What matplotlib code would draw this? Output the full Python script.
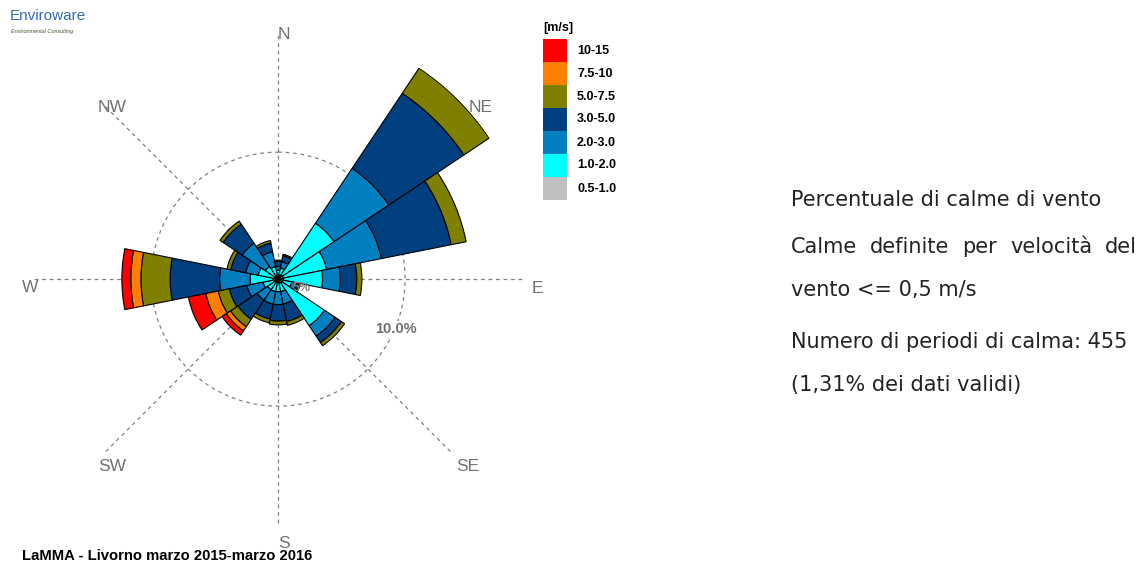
import numpy as np
import matplotlib.pyplot as plt
from matplotlib.patches import Rectangle

# 16 sectors, clockwise from North
directions = ["N", "NNE", "NE", "ENE", "E", "ESE", "SE", "SSE",
              "S", "SSW", "SW", "WSW", "W", "WNW", "NW", "NNW"]
speed_classes = ["0.5-1.0", "1.0-2.0", "2.0-3.0", "3.0-5.0",
                 "5.0-7.5", "7.5-10", "10-15"]
class_colors = ["#c0c0c0", "#00ffff", "#0080c0", "#004080",
                "#808000", "#ff8000", "#ff0000"]

# frequency (%) per direction for each speed class
f_05_10 = [0.3, 0.3, 0.4, 0.4, 0.4, 0.4, 0.4, 0.3, 0.3, 0.3, 0.3, 0.3, 0.4, 0.3, 0.3, 0.3]
f_10_20 = [0.4, 0.6, 4.9, 3.5, 3.1, 0.7, 4.0, 0.7, 0.7, 0.7, 0.7, 0.9, 1.8, 1.3, 0.9, 0.7]
f_20_30 = [0.3, 0.5, 5.2, 4.4, 1.4, 0.4, 1.0, 1.0, 1.0, 1.0, 1.0, 1.3, 2.4, 1.0, 2.2, 1.2]
f_30_50 = [0.4, 0.5, 7.1, 5.6, 1.3, 0.2, 0.6, 1.4, 1.3, 1.2, 1.8, 1.4, 3.9, 1.2, 1.8, 0.7]
f_50_75 = [0.1, 0.1, 2.4, 1.2, 0.4, 0.1, 0.3, 0.3, 0.3, 0.3, 0.7, 0.9, 2.3, 0.3, 0.3, 0.2]
f_75_10 = [0.0, 0.0, 0.2, 0.0, 0.0, 0.0, 0.0, 0.0, 0.0, 0.0, 0.4, 1.0, 0.8, 0.0, 0.0, 0.0]
f_10_15 = [0.0, 0.0, 0.0, 0.0, 0.0, 0.0, 0.0, 0.0, 0.0, 0.0, 0.4, 1.4, 0.7, 0.0, 0.0, 0.0]

freqs = [f_05_10, f_10_20, f_20_30, f_30_50, f_50_75, f_75_10, f_10_15]

calm_lines = ["Percentuale di calme di vento",
              "Calme definite per velocità del",
              "vento <= 0,5 m/s",
              "Numero di periodi di calma: 455",
              "(1,31% dei dati validi)"]
title = "LaMMA - Livorno marzo 2015-marzo 2016"


def justify(fig, words, x0, x1, y, **kw):
    """Place words on one line so that they fill x0..x1 (figure fraction)."""
    texts = [fig.text(0, y, w, va="center", **kw) for w in words]
    fig.canvas.draw()
    r = fig.canvas.get_renderer()
    fw = fig.bbox.width
    widths = [t.get_window_extent(r).width / fw for t in texts]
    gap = (x1 - x0 - sum(widths)) / (len(words) - 1)
    x = x0
    for t, w in zip(texts, widths):
        t.set_x(x)
        x += w + gap


fig = plt.figure(figsize=(11.45, 5.63), dpi=100)
ax = fig.add_axes([0.021, 0.053, 0.4437, 0.9023], projection="polar")
ax.set_theta_zero_location("N")
ax.set_theta_direction(-1)
ax.set_ylim(0, 20)
ax.axis("off")

theta = np.radians(np.arange(16) * 22.5)
width = np.radians(22.5)

# grid: 8 spokes and the 10% ring
for a in range(0, 360, 45):
    ax.plot([np.radians(a)] * 2, [0, 19.2], ls=(0, (3, 3)), color="#808080",
            lw=0.9, zorder=1)
ring = np.linspace(0, 2 * np.pi, 361)
ax.plot(ring, np.full_like(ring, 10.0), ls=(0, (3, 3)), color="#808080",
        lw=0.9, zorder=1)

bottom = np.zeros(16)
for vals, col in zip(freqs, class_colors):
    vals = np.array(vals)
    keep = vals > 0
    ax.bar(theta[keep], vals[keep], width=width, bottom=bottom[keep],
           color=col, edgecolor="black", linewidth=0.8, zorder=3)
    bottom += vals

# direction labels
lab_pos = {"N": (1.4, 19.3), "NE": (49.6, 20.9), "E": (92, 20.4),
           "SE": (134.7, 21.0), "S": (178.7, 20.8), "SW": (221.4, 19.7),
           "W": (268, 19.5), "NW": (316, 18.8)}
for name, (a, r) in lab_pos.items():
    ax.text(np.radians(a), r, name, ha="center", va="center", fontsize=12.5,
            color="#707070", family="Liberation Sans", clip_on=False, zorder=2)

ax.text(np.radians(113), 10.05, "10.0%", ha="center", va="center",
        fontsize=10.5, color="#707070", family="Liberation Sans",
        fontweight="bold", zorder=2,
        bbox=dict(facecolor="white", edgecolor="none", pad=1))
ax.text(np.radians(110), 2.0, "5%", ha="center", va="center",
        fontsize=9, color="#808080", family="Liberation Sans",
        fontweight="bold", zorder=5)

# legend
fw, fh = 1145.0, 563.0
fig.text(543 / fw, 1 - 28 / fh, "[m/s]", fontsize=9, fontweight="bold",
         family="Liberation Sans", va="center")
for i, (lab, col) in enumerate(zip(speed_classes[::-1], class_colors[::-1])):
    y_top = 39 + i * 23
    fig.patches.append(Rectangle((543 / fw, 1 - (y_top + 23) / fh),
                                 24 / fw, 23 / fh, facecolor=col,
                                 edgecolor="none", transform=fig.transFigure))
    fig.text(577 / fw, 1 - (y_top + 11.5) / fh, lab, fontsize=9,
             fontweight="bold", family="Liberation Sans", va="center")

# logo
fig.text(10 / fw, 1 - 16 / fh, "Enviroware", fontsize=11, color="#2f6db5",
         family="Liberation Sans", va="center")
fig.text(11 / fw, 1 - 31 / fh, "Environmental Consulting", fontsize=4,
         style="italic", color="#3d5a2a", family="Liberation Sans",
         va="center")

fig.text(22 / fw, 1 - 556 / fh, title, fontsize=10.7, fontweight="bold",
         family="Liberation Sans", va="center")

# calm information
txt_kw = dict(fontsize=15, color="#222222", family="DejaVu Sans")
line_y = [200, 247, 290, 342, 385]
x0, x1 = 791 / fw, 1137 / fw
for i, (line, y) in enumerate(zip(calm_lines, line_y)):
    if i == 1:
        justify(fig, line.split(), x0, x1, 1 - y / fh, **txt_kw)
    else:
        fig.text(x0, 1 - y / fh, line, va="center", **txt_kw)

fig.savefig("out.png", dpi=100)
